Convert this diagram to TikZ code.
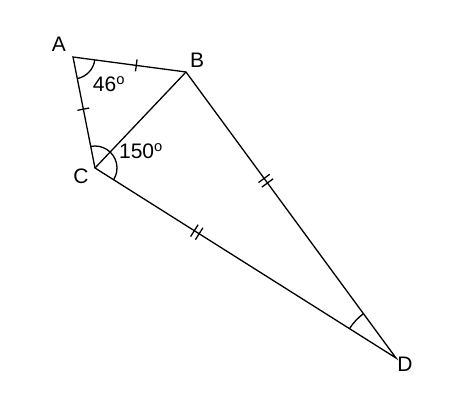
\documentclass[tikz,border=0pt]{standalone}
\usepackage{fontspec}
\setmainfont{Liberation Sans}
\usetikzlibrary{calc,angles}
\begin{document}
\begin{tikzpicture}[x=1pt,y=1pt,line width=1.3pt,font=\fontsize{21}{24}\selectfont]
    \useasboundingbox (0,0) rectangle (470,400);
    \coordinate (A) at (73,343);
    \coordinate (B) at (186,328);
    \coordinate (C) at (95,232);
    \coordinate (D) at (396,42);
    \draw (C) -- (A) -- (B) -- (D) -- cycle;
    \draw (C) -- (B);
    % angle marks
    \pic[draw,angle radius=22pt] {angle=C--A--B};
    \pic[draw,angle radius=22pt] {angle=D--C--A};
    \pic[draw,angle radius=55pt] {angle=B--D--C};
    % equal sides
    \draw ($(A)!0.56!(B)!6pt!90:(B)$) -- ($(A)!0.56!(B)!6pt!-90:(B)$);
    \draw ($(A)!0.47!(C)!6pt!90:(C)$) -- ($(A)!0.47!(C)!6pt!-90:(C)$);
    \foreach \t in {-0.008,0.008} {
        \draw ($(C)!0.338+\t!(D)!7pt!90:(D)$) -- ($(C)!0.338+\t!(D)!7pt!-90:(D)$);
        \draw ($(B)!0.38+\t!(D)!7pt!90:(D)$) -- ($(B)!0.38+\t!(D)!7pt!-90:(D)$);
    }
    % labels
    \node (lA) at (59,356) {A};
    \node (lB) at (197,340) {B};
    \node (lC) at (81,224) {C};
    \node (lD) at (405,36) {D};
    \node (a46) at (109,316) {46\textsuperscript{o}};
    \node (a150) at (141,249) {150\textsuperscript{o}};
\end{tikzpicture}
\end{document}
